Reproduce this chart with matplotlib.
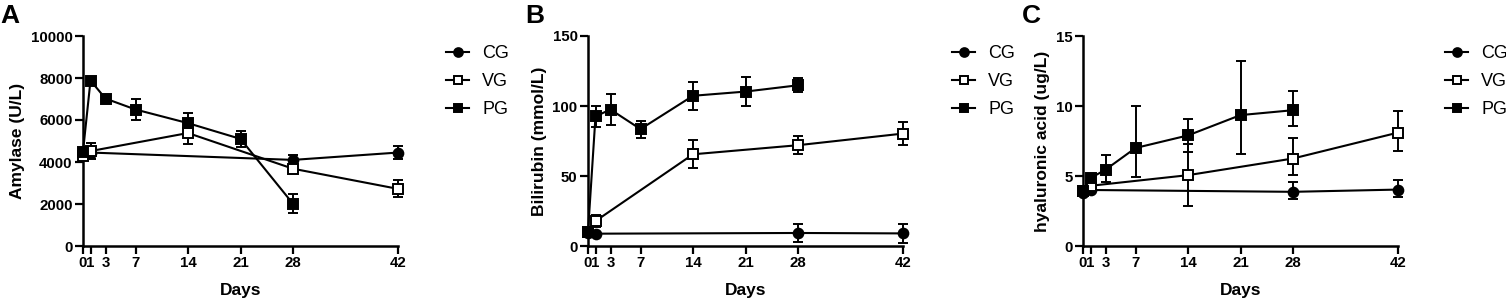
import matplotlib
matplotlib.use("Agg")
import matplotlib.pyplot as plt

plt.rcParams["font.family"] = ["Liberation Sans", "DejaVu Sans"]

# ---- data ----
groups = ["CG", "VG", "PG"]

# Amylase (U/L)
amy_days = {"CG": [0, 1, 28, 42], "VG": [0, 1, 14, 28, 42], "PG": [0, 1, 3, 7, 14, 21, 28]}
amy_mean = {"CG": [4450, 4450, 4100, 4450],
            "VG": [4300, 4520, 5380, 3680, 2720],
            "PG": [4500, 7880, 7020, 6500, 5850, 5100, 2010]}
amy_err_lo = {"CG": [150, 150, 250, 300],
              "VG": [200, 400, 500, 200, 400],
              "PG": [150, 150, 100, 500, 500, 400, 450]}
amy_err_hi = amy_err_lo

# Bilirubin (mmol/L)
bil_days = {"CG": [0, 1, 28, 42], "VG": [0, 1, 14, 28, 42], "PG": [0, 1, 3, 7, 14, 21, 28]}
bil_mean = {"CG": [9.5, 8.8, 9.3, 9.0],
            "VG": [10.0, 17.8, 65.5, 72.0, 80.3],
            "PG": [10.0, 92.6, 97.5, 83.5, 107.3, 110.3, 114.8]}
bil_err_lo = {"CG": [1.5, 1.0, 6.5, 6.5],
              "VG": [1.5, 4.0, 10.0, 6.5, 8.0],
              "PG": [1.5, 7.5, 11.0, 6.0, 10.0, 10.5, 5.0]}
bil_err_hi = bil_err_lo

# hyaluronic acid (ug/L)
hya_days = {"CG": [0, 1, 28, 42], "VG": [0, 1, 14, 28, 42], "PG": [0, 1, 3, 7, 14, 21, 28]}
hya_mean = {"CG": [3.8, 4.0, 3.87, 4.03],
            "VG": [3.9, 4.3, 5.06, 6.25, 8.1],
            "PG": [3.9, 4.85, 5.45, 7.0, 7.9, 9.35, 9.7]}
hya_err_lo = {"CG": [0.2, 0.2, 0.5, 0.54],
              "VG": [0.2, 0.3, 2.2, 1.15, 1.34],
              "PG": [0.2, 0.2, 0.89, 2.05, 1.15, 2.75, 1.16]}
hya_err_hi = {"CG": [0.2, 0.2, 0.71, 0.72],
              "VG": [0.2, 0.3, 2.2, 1.46, 1.56],
              "PG": [0.2, 0.2, 1.03, 3.0, 1.15, 3.9, 1.34]}

day_ticks = [0, 1, 3, 7, 14, 21, 28, 42]

panels = [
    ("A", "Amylase (U/L)", amy_days, amy_mean, amy_err_lo, amy_err_hi, 10000,
     [0, 2000, 4000, 6000, 8000, 10000]),
    ("B", "Bilirubin (mmol/L)", bil_days, bil_mean, bil_err_lo, bil_err_hi, 150,
     [0, 50, 100, 150]),
    ("C", "hyaluronic acid (ug/L)", hya_days, hya_mean, hya_err_lo, hya_err_hi, 15,
     [0, 5, 10, 15]),
]

styles = {
    "CG": dict(marker="o", mfc="black", ms=7),
    "VG": dict(marker="s", mfc="white", ms=7),
    "PG": dict(marker="s", mfc="black", ms=7),
}

W, H = 1506, 305
fig = plt.figure(figsize=(W / 100, H / 100), dpi=100)

ax_left_px = [83, 588, 1083]
ax_width_px = 315
ax_top_px, ax_bot_px = 36, 246
legend_x_px = [446, 952, 1445]
letter_x_px = [0, 525, 1022]

for i, (letter, ylabel, days, mean, lo, hi, ymax, yticks) in enumerate(panels):
    ax = fig.add_axes([ax_left_px[i] / W, 1 - ax_bot_px / H,
                       ax_width_px / W, (ax_bot_px - ax_top_px) / H])
    for g in groups:
        ax.errorbar(days[g], mean[g], yerr=[lo[g], hi[g]], color="black", lw=1.5,
                    mec="black", mew=1.4, capsize=3.5, capthick=1.4,
                    elinewidth=1.4, clip_on=False, label=g, zorder=3,
                    **styles[g])
    ax.set_xlim(0, 42)
    ax.set_ylim(0, ymax)
    ax.set_xticks(day_ticks)
    ax.set_yticks(yticks)
    for s in ["top", "right"]:
        ax.spines[s].set_visible(False)
    for s in ["left", "bottom"]:
        ax.spines[s].set_linewidth(1.8)
    ax.tick_params(direction="out", length=5.5, width=1.6, labelsize=10.8, pad=2)
    for lab in ax.get_xticklabels() + ax.get_yticklabels():
        lab.set_fontweight("bold")
    ax.set_xlabel("Days", fontsize=12.5, fontweight="bold", labelpad=9)
    ax.set_ylabel(ylabel, fontsize=12.5, fontweight="bold", labelpad=4)

    handles, labels = ax.get_legend_handles_labels()
    handles = [h[0] for h in handles]
    fig.legend(handles, labels, loc="upper left",
               bbox_to_anchor=(legend_x_px[i] / W, 1 - 45 / H),
               frameon=False, fontsize=13, handlelength=1.28,
               handletextpad=0.72, labelspacing=0.62, borderpad=0,
               borderaxespad=0, markerscale=0.9)

    fig.text(letter_x_px[i] / W, 1 - 4 / H, letter, fontsize=19,
             fontweight="bold", ha="left", va="top")

fig.savefig("out.png", dpi=100)
